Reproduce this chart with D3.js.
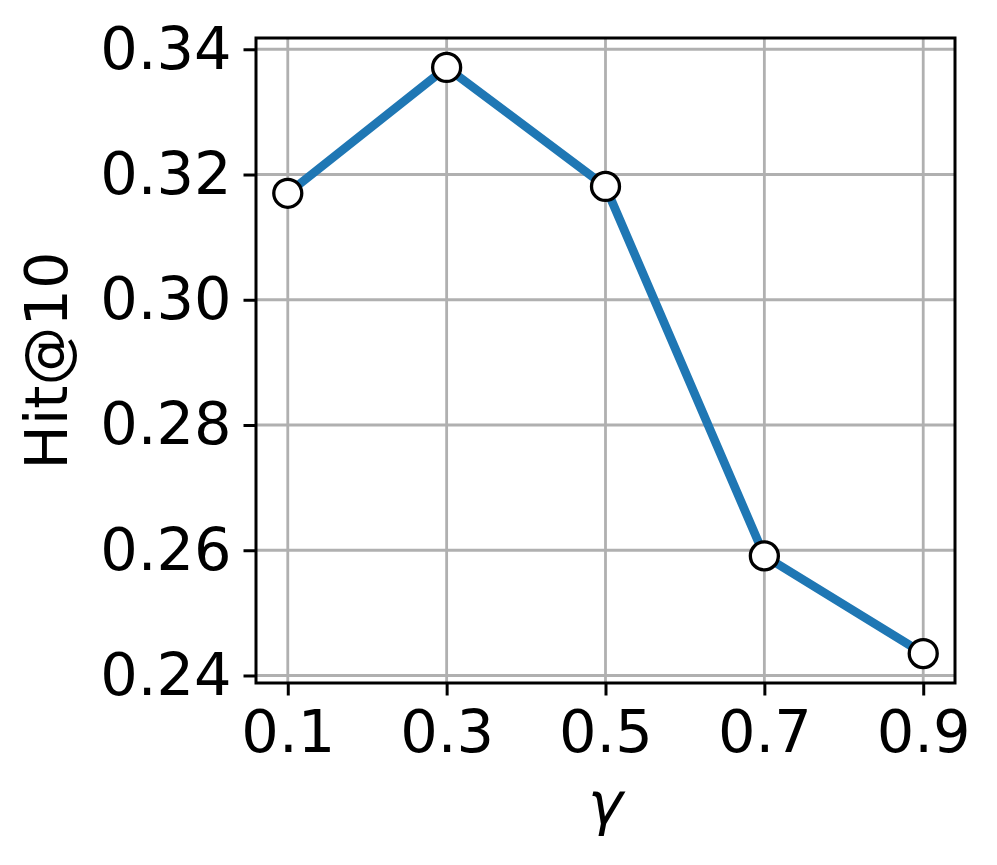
<!DOCTYPE html>
<html>
<head>
<meta charset="utf-8">
<script src="https://cdn.jsdelivr.net/npm/d3@7"></script>
<style>
  body { margin: 0; background: #fff; }
  svg { display: block; font-family: "DejaVu Sans", sans-serif; }
</style>
</head>
<body>
<svg id="chart" width="997" height="865"></svg>
<script>
// data
var gammas = [0.1, 0.3, 0.5, 0.7, 0.9];
var hits = [0.317, 0.3371, 0.3181, 0.2591, 0.2435];
var xTicks = [0.1, 0.3, 0.5, 0.7, 0.9];
var yTicks = [0.24, 0.26, 0.28, 0.30, 0.32, 0.34];

// plot box (window.top is reserved, so use other names)
var plotLeft = 256, plotRight = 955, plotTop = 38, plotBottom = 683;
var fontSize = 59;

var svg = d3.select("#chart");

var x = d3.scaleLinear().domain([0.06, 0.94]).range([plotLeft, plotRight]);
var y = d3.scaleLinear().domain([0.2388, 0.3418]).range([plotBottom, plotTop]);

// grid
var grid = svg.append("g");
grid.selectAll("line.gx")
    .data(xTicks)
    .enter()
    .append("line")
    .attr("class", "gx")
    .attr("x1", d => x(d)).attr("x2", d => x(d))
    .attr("y1", plotTop).attr("y2", plotBottom)
    .attr("stroke", "#b0b0b0")
    .attr("stroke-width", 2.8);
grid.selectAll("line.gy")
    .data(yTicks)
    .enter()
    .append("line")
    .attr("class", "gy")
    .attr("y1", d => y(d)).attr("y2", d => y(d))
    .attr("x1", plotLeft).attr("x2", plotRight)
    .attr("stroke", "#b0b0b0")
    .attr("stroke-width", 2.8);

// line + markers
var line = d3.line()
    .x((d, i) => x(gammas[i]))
    .y(d => y(d));

svg.append("path")
    .attr("d", line(hits))
    .attr("fill", "none")
    .attr("stroke", "#1f77b4")
    .attr("stroke-width", 8.7)
    .attr("stroke-linejoin", "round");

svg.append("g").selectAll("circle")
    .data(hits)
    .enter()
    .append("circle")
    .attr("cx", (d, i) => x(gammas[i]))
    .attr("cy", d => y(d))
    .attr("r", 14)
    .attr("fill", "white")
    .attr("stroke", "black")
    .attr("stroke-width", 3.3);

// axes
var xAxis = d3.axisBottom(x)
    .tickValues(xTicks)
    .tickFormat(d3.format(".1f"))
    .tickSize(12.5)
    .tickPadding(12);
var yAxis = d3.axisLeft(y)
    .tickValues(yTicks)
    .tickFormat(d3.format(".2f"))
    .tickSize(12.5)
    .tickPadding(12);

var gx = svg.append("g")
    .attr("transform", `translate(0, ${plotBottom})`)
    .call(xAxis);
var gy = svg.append("g")
    .attr("transform", `translate(${plotLeft}, 0)`)
    .call(yAxis);

[gx, gy].forEach(function (g) {
    g.select(".domain").remove();
    g.selectAll(".tick line").attr("stroke", "black").attr("stroke-width", 3);
    g.selectAll(".tick text")
        .attr("fill", "black")
        .style("font-size", fontSize + "px")
        .style("font-family", "DejaVu Sans");
});
gx.selectAll(".tick text").attr("dy", "0.76em");

// frame
svg.append("rect")
    .attr("x", plotLeft).attr("y", plotTop)
    .attr("width", plotRight - plotLeft).attr("height", plotBottom - plotTop)
    .attr("fill", "none")
    .attr("stroke", "black")
    .attr("stroke-width", 3);

// labels
svg.append("text")
    .attr("transform", `translate(67, ${(plotTop + plotBottom) / 2}) rotate(-90)`)
    .attr("text-anchor", "middle")
    .style("font-size", fontSize + "px")
    .text("Hit@10");

svg.append("text")
    .attr("x", (plotLeft + plotRight) / 2)
    .attr("y", 824)
    .attr("text-anchor", "middle")
    .style("font-size", fontSize + "px")
    .style("font-style", "italic")
    .text("γ");
</script>
</body>
</html>
